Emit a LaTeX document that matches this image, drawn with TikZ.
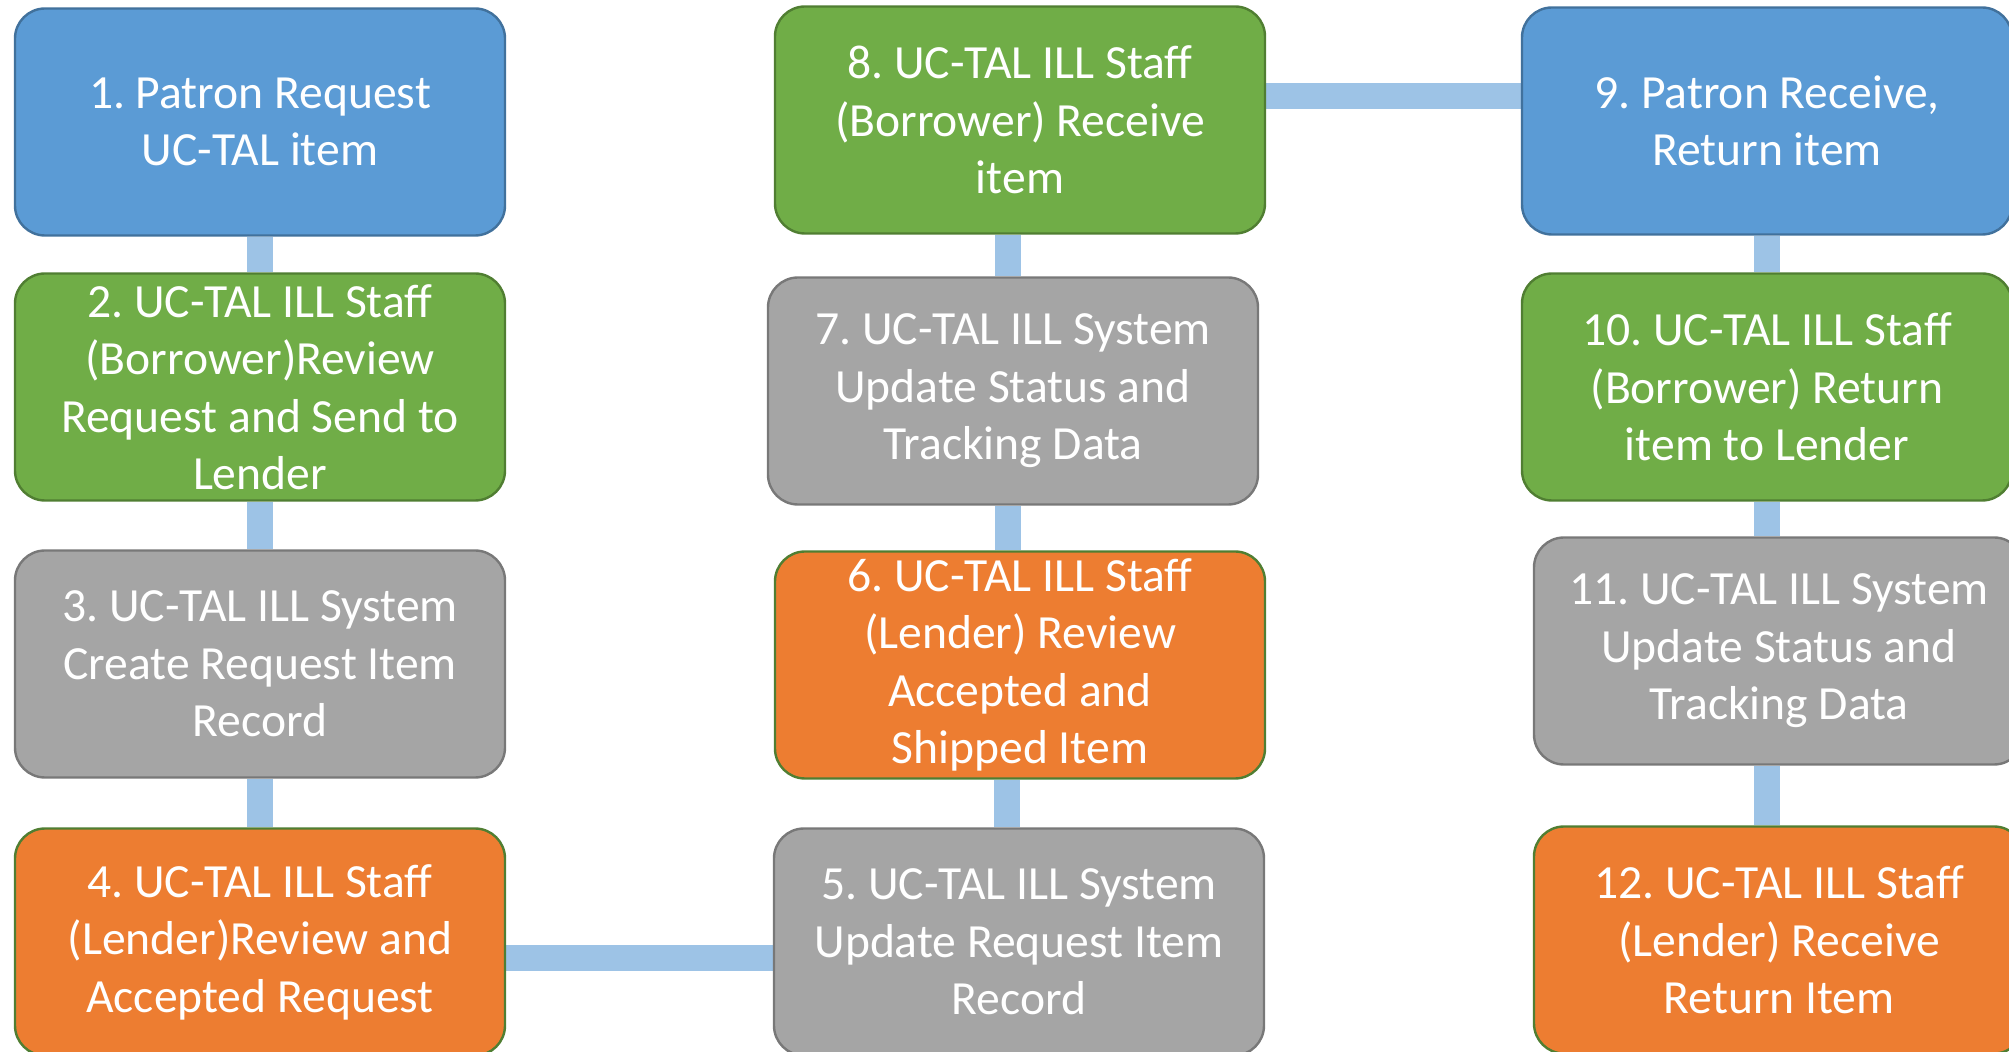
\documentclass[tikz,border=0pt]{standalone}
\usepackage{fontspec}
\setmainfont{Carlito}
\usetikzlibrary{backgrounds}

\definecolor{patronfill}{HTML}{5B9BD5}
\definecolor{patronedge}{HTML}{41719C}
\definecolor{staffgreen}{HTML}{70AD47}
\definecolor{staffedge}{HTML}{507E32}
\definecolor{systemgray}{HTML}{A5A5A5}
\definecolor{systemedge}{HTML}{787878}
\definecolor{lenderorange}{HTML}{ED7D31}
\definecolor{linkblue}{HTML}{9DC3E6}

\begin{document}
\frenchspacing
\begin{tikzpicture}[x=0.5pt,y=-0.5pt,
    box/.style={draw,line width=1.2pt,rounded corners=15pt,minimum width=245pt,
      minimum height=113.5pt,inner sep=0.5pt,align=center,text=white,
      font=\fontsize{23.8}{28.75}\selectfont},
    patronbox/.style={box,fill=patronfill,draw=patronedge},
    borrowerbox/.style={box,fill=staffgreen,draw=staffedge},
    systembox/.style={box,fill=systemgray,draw=systemedge},
    lenderbox/.style={box,fill=lenderorange,draw=staffedge},
    link/.style={draw=linkblue,line width=13pt}]
  \useasboundingbox (0,0) rectangle (2009,1052);
  \draw
    (260,122) node[patronbox] (1) {1. Patron Request\\UC-TAL item}
    (260,387) node[borrowerbox] (2) {2. UC-TAL ILL Staff\\(Borrower)Review\\Request and Send to\\Lender}
    (260,664) node[systembox] (3) {3. UC-TAL ILL System\\Create Request Item\\Record}
    (260,942) node[lenderbox] (4) {4. UC-TAL ILL Staff\\(Lender)Review and\\Accepted Request}
    (1019,942) node[systembox] (5) {5. UC-TAL ILL System\\Update Request Item\\Record}
    (1020,665) node[lenderbox] (6) {6. UC-TAL ILL Staff\\(Lender) Review\\Accepted and\\Shipped Item}
    (1013,391) node[systembox] (7) {7. UC-TAL ILL System\\Update Status and\\Tracking Data}
    (1020,120) node[borrowerbox] (8) {8. UC-TAL ILL Staff\\(Borrower) Receive\\item}
    (1767,121) node[patronbox] (9) {9. Patron Receive,\\Return item}
    (1767,387) node[borrowerbox] (10) {10. UC-TAL ILL Staff\\(Borrower) Return\\item to Lender}
    (1779,651) node[systembox] (11) {11. UC-TAL ILL System\\Update Status and\\Tracking Data}
    (1779,940) node[lenderbox] (12) {12. UC-TAL ILL Staff\\(Lender) Receive\\Return Item};
  \begin{scope}[on background layer]
    \draw[link] (1) -- (2);
    \draw[link] (2) -- (3);
    \draw[link] (3) -- (4);
    \draw[link] ([yshift=-8pt]4.east) -- ([yshift=-8pt]4.east -| 5.west);
    \draw[link] ([xshift=-6pt]5.north) -- ([xshift=-6pt]5.north |- 6.south);
    \draw[link] ([xshift=-6pt]6.north) -- ([xshift=-6pt]6.north |- 7.south);
    \draw[link] ([xshift=-6pt]8.south) -- ([xshift=-6pt]8.south |- 7.north);
    \draw[link] ([yshift=12pt]8.east) -- ([yshift=12pt]8.east -| 9.west);
    \draw[link] (9) -- (10);
    \draw[link] (10.south) -- (10.south |- 11.north);
    \draw[link] (10.south |- 11.south) -- (10.south |- 12.north);
  \end{scope}
\end{tikzpicture}
\end{document}
